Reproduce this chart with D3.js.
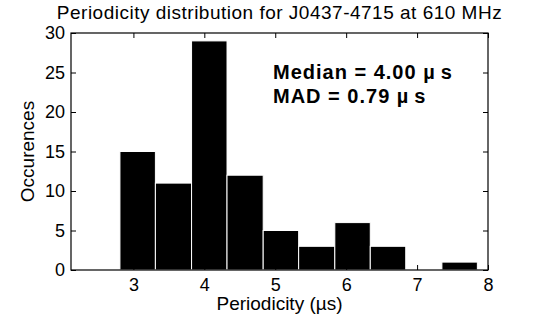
<!DOCTYPE html>
<html>
<head>
<meta charset="utf-8">
<script src="https://cdn.jsdelivr.net/npm/d3@7"></script>
<style>
  body { margin: 0; background: #fff; }
  text { font-family: "Liberation Sans", Arial, sans-serif; }
</style>
</head>
<body>
<div class="chart"></div>
<script>
// Histogram bins (left edge of each bin, in µs) and counts
const binEdges = [2.81, 3.31, 3.82, 4.32, 4.83, 5.33, 5.84, 6.34, 6.84, 7.35, 7.85];
const counts = [15, 11, 29, 12, 5, 3, 6, 3, 0, 1];
const xTicks = [3, 4, 5, 6, 7, 8];
const yTicks = [0, 5, 10, 15, 20, 25, 30];
const titleText = 'Periodicity distribution for J0437-4715 at 610 MHz';
const notes = ['Median = 4.00 \u00b5\u2009s', 'MAD = 0.79 \u00b5\u2009s'];

const W = 539, H = 320;
const margin = {top: 33, right: 51, bottom: 50, left: 71},
    width = W - margin.left - margin.right,
    height = H - margin.top - margin.bottom;

const svg = d3.select('.chart')
    .append('svg')
        .attr('width', W)
        .attr('height', H);

const g = svg.append('g')
    .attr('transform', `translate(${margin.left},${margin.top})`);

// Scales
const x = d3.scaleLinear().domain([2.12, 8]).range([0, width]);
const y = d3.scaleLinear().domain([0, 30]).range([height, 0]);

// Bars
const bins = counts.map((c, i) => ({x0: binEdges[i], x1: binEdges[i + 1], c}));
g.selectAll('rect.bar')
    .data(bins.filter(d => d.c > 0))
    .enter()
        .append('rect')
        .attr('class', 'bar')
        .attr('x', d => x(d.x0))
        .attr('width', d => x(d.x1) - x(d.x0))
        .attr('y', d => y(d.c))
        .attr('height', d => y(0) - y(d.c))
        .attr('fill', '#000')
        .attr('stroke', '#fff')
        .attr('stroke-width', 1);

// Axes, ticks pointing inward on all four sides
const tickLen = 5;
const styleAxis = sel => {
    sel.select('.domain').remove();
    sel.selectAll('line').attr('stroke', '#000');
    sel.selectAll('text')
        .style('font-size', '18px')
        .attr('fill', '#000');
};

g.append('g')
    .attr('transform', `translate(0,${height})`)
    .call(d3.axisBottom(x).tickValues(xTicks).tickSize(-tickLen).tickPadding(8).tickFormat(d3.format('d')))
    .call(styleAxis);
g.append('g')
    .call(d3.axisTop(x).tickValues(xTicks).tickSize(-tickLen).tickFormat(''))
    .call(styleAxis);
g.append('g')
    .call(d3.axisLeft(y).tickValues(yTicks).tickSize(-tickLen).tickPadding(6).tickFormat(d3.format('d')))
    .call(styleAxis);
g.append('g')
    .attr('transform', `translate(${width},0)`)
    .call(d3.axisRight(y).tickValues(yTicks).tickSize(-tickLen).tickFormat(''))
    .call(styleAxis);

// Box
g.append('rect')
    .attr('x', 0).attr('y', 0)
    .attr('width', width).attr('height', height)
    .attr('fill', 'none')
    .attr('stroke', '#000')
    .attr('stroke-width', 1.2);

// Title and labels
svg.append('text')
    .attr('x', margin.left + width / 2)
    .attr('y', 19)
    .attr('text-anchor', 'middle')
    .style('font-size', '19px')
    .style('letter-spacing', '0.5px')
    .text(titleText);
svg.append('text')
    .attr('x', margin.left + width / 2)
    .attr('y', 310)
    .attr('text-anchor', 'middle')
    .style('font-size', '19px')
    .text('Periodicity (\u00b5s)');
svg.append('text')
    .attr('transform', `translate(34, ${margin.top + height / 2}) rotate(-90)`)
    .attr('text-anchor', 'middle')
    .style('font-size', '19px')
    .text('Occurences');

// Annotation
svg.selectAll('text.note')
    .data(notes)
    .enter()
        .append('text')
        .attr('class', 'note')
        .attr('x', 273)
        .attr('y', (d, i) => 79 + i * 24)
        .style('font-size', '20px')
        .style('font-weight', 'bold')
        .style('letter-spacing', '1px')
        .text(d => d);
</script>
</body>
</html>
